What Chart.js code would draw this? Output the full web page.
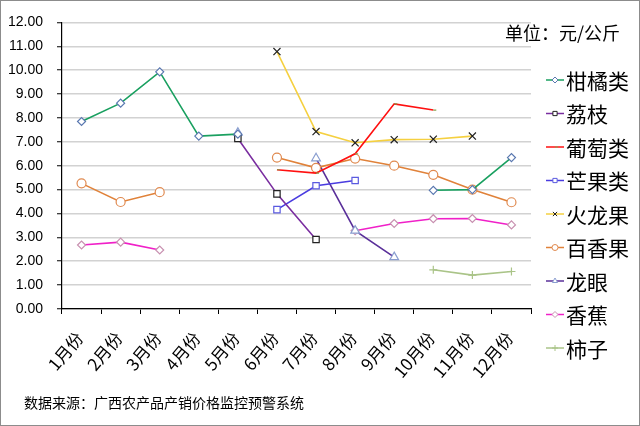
<!DOCTYPE html>
<html><head><meta charset="utf-8">
<script src="https://cdn.jsdelivr.net/npm/chart.js@4"></script>
<style>html,body{margin:0;padding:0;background:#fff}#wrap{position:relative;width:640px;height:426px}</style>
</head><body><div id="wrap"><canvas id="c" width="640" height="426"></canvas></div>
<script>
const months = ['1月份','2月份','3月份','4月份','5月份','6月份','7月份','8月份','9月份','10月份','11月份','12月份'];
const yTicks = [0,1,2,3,4,5,6,7,8,9,10,11,12];
const citrus    = [7.85, 8.62, 9.93, 7.24, 7.32, null, null, null, null, 4.97, 5.00, 6.34];
const lychee    = [null, null, null, null, 7.14, 4.82, 2.91, null, null, null, null, null];
const grape     = [null, null, null, null, null, 5.83, 5.69, 6.50, 8.59, 8.33, null, null];
const mango     = [null, null, null, null, null, 4.16, 5.16, 5.38, null, null, null, null];
const pitaya    = [null, null, null, null, null, 10.78, 7.43, 6.96, 7.09, 7.11, 7.24, null];
const passion   = [5.26, 4.48, 4.89, null, null, 6.34, 5.91, 6.30, 6.00, 5.62, 5.00, 4.47];
const longan    = [null, null, null, null, 7.38, null, 6.31, 3.28, 2.17, null, null, null];
const banana    = [2.68, 2.80, 2.47, null, null, null, null, 3.28, 3.58, 3.78, 3.79, 3.52];
const persimmon = [null, null, null, null, null, null, null, null, null, 1.64, 1.42, 1.57];
const seriesNames = ['柑橘类','荔枝','葡萄类','芒果类','火龙果','百香果','龙眼','香蕉','柿子'];
const unitText = '单位：元/公斤';
const sourceText = '数据来源：广西农产品产销价格监控预警系统';

const CJK = '"Noto Sans CJK SC", "Noto Sans", sans-serif';
const styles = [
  {line:'#1aa060', pt:'#5a78b0', ps:'rectRot', r:4},
  {line:'#7a2ea0', pt:'#222222', ps:'rect', r:4.5},
  {line:'#ff1010', pt:'#8aa050', ps:'dash', r:3},
  {line:'#4a3ce0', pt:'#5a5ae0', ps:'rect', r:4.5},
  {line:'#f5d040', pt:'#222222', ps:'crossRot', r:5},
  {line:'#e0823a', pt:'#e08a50', ps:'circle', r:4.5},
  {line:'#5a309a', pt:'#8a9ed0', ps:'triangle', r:5},
  {line:'#f020c8', pt:'#c890b0', ps:'rectRot', r:4},
  {line:'#aac488', pt:'#aac488', ps:'cross', r:4}
];
const values = [citrus, lychee, grape, mango, pitaya, passion, longan, banana, persimmon];

const datasets = values.map((v,i)=>({
  label: seriesNames[i], data: v,
  borderColor: styles[i].line, borderWidth: 1.6,
  pointStyle: styles[i].ps, pointRadius: styles[i].r,
  pointBorderColor: styles[i].pt, pointBackgroundColor: '#fff', pointBorderWidth: 1.2,
  spanGaps: false, tension: 0, fill: false
}));

const extras = {
  id: 'extras',
  afterDraw(chart){
    const ctx = chart.ctx;
    ctx.save();
    const y0 = 80, dy = 33.5;
    seriesNames.forEach((n,i)=>{
      const y = y0 + i*dy, s = styles[i];
      ctx.strokeStyle = s.line; ctx.lineWidth = 1.5;
      ctx.beginPath(); ctx.moveTo(546,y); ctx.lineTo(564,y); ctx.stroke();
      ctx.fillStyle = '#fff'; ctx.strokeStyle = s.pt; ctx.lineWidth = 1;
      Chart.helpers.drawPoint(ctx, {pointStyle:s.ps, radius:3, borderWidth:1, rotation:0}, 555, y);
      ctx.fillStyle = '#000';
      ctx.font = '21px ' + CJK;
      ctx.textBaseline = 'middle'; ctx.textAlign = 'left';
      ctx.fillText(n, 566, y+1);
    });
    ctx.fillStyle = '#000';
    ctx.font = '18px ' + CJK;
    ctx.textBaseline = 'middle';
    ctx.fillText(unitText, 505, 33);
    ctx.font = '14px ' + CJK;
    ctx.fillText(sourceText, 24, 403);
    ctx.strokeStyle = '#8c8c8c'; ctx.lineWidth = 1;
    ctx.strokeRect(0.5,0.5,639,425);
    ctx.restore();
  }
};

new Chart(document.getElementById('c'), {
  type: 'line',
  data: { labels: months, datasets },
  options: {
    responsive: false, animation: false, maintainAspectRatio: false,
    layout: { padding: { left: 0, top: 14, right: 109, bottom: 0 } },
    plugins: { legend: { display: false }, tooltip: { enabled: false } },
    scales: {
      x: {
        offset: true,
        grid: { offset: true, drawOnChartArea: false, tickLength: 5, color: '#000', tickColor: '#000' },
        border: { color: '#000', width: 1.2 },
        ticks: { minRotation: 50, maxRotation: 50, color: '#000', font: { size: 17, family: CJK }, padding: 14, labelOffset: -2 },
        afterFit(s){ s.height = 117; }
      },
      y: {
        min: yTicks[0], max: yTicks[yTicks.length-1],
        afterBuildTicks(s){ s.ticks = yTicks.map(v=>({value:v})); },
        grid: { color: '#d2d2d2', lineWidth: 1.5, tickLength: 5, tickColor: '#000', tickWidth: 1 },
        border: { color: '#000', width: 1.2 },
        ticks: { color: '#000', font: { size: 14, family: '"Liberation Sans", Arial, sans-serif' }, padding: 14,
                 callback: v => Number(v).toFixed(2) },
        afterFit(s){ s.width = 62; }
      }
    }
  },
  plugins: [extras]
});
</script></body></html>
